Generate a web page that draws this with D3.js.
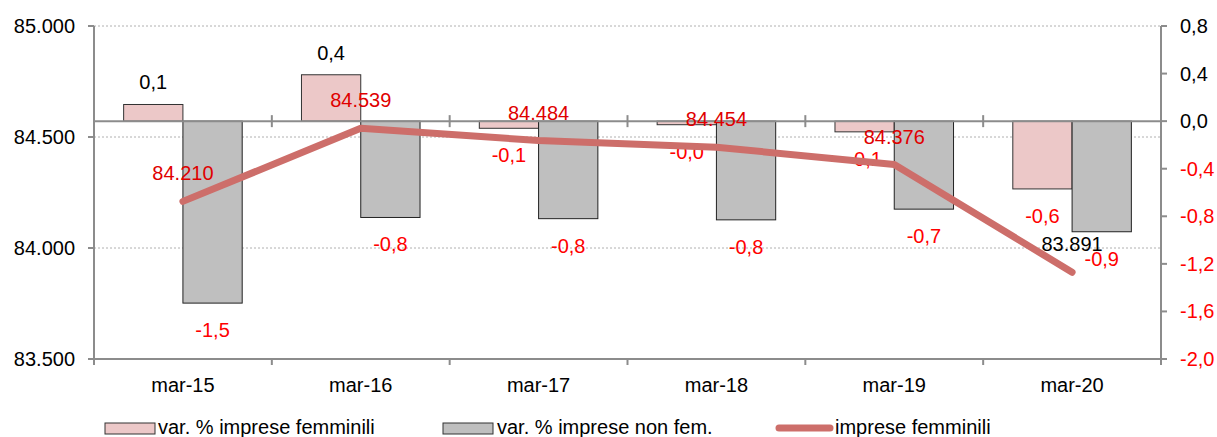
<!DOCTYPE html>
<meta charset="utf-8">
<title>Imprese femminili</title>
<style>
body { margin: 0; background: #fff; }
svg { display: block; font-family: "Liberation Sans", Arial, sans-serif; }
.grid line { stroke: #b0b0b0; stroke-dasharray: 2,2; }
.axis-line { stroke: #8c8c8c; stroke-width: 2; fill: none; }
</style>
<svg width="1217" height="437"></svg>
<script src="https://cdn.jsdelivr.net/npm/d3@7"></script>
<script>

var categories = ["mar-15", "mar-16", "mar-17", "mar-18", "mar-19", "mar-20"];
var varFem = [0.14, 0.39, -0.06, -0.03, -0.09, -0.57];
var varNonFem = [-1.53, -0.81, -0.82, -0.83, -0.74, -0.93];
var impreseFem = [84210, 84539, 84484, 84454, 84376, 83891];
var leftTicks = [83500, 84000, 84500, 85000];
var rightTicks = [-2.0, -1.6, -1.2, -0.8, -0.4, 0.0, 0.4, 0.8];
var seriesNames = ["var. % imprese femminili", "var. % imprese non fem.", "imprese femminili"];

var svg = d3.select("svg"),
    margin = {top: 26, right: 56, bottom: 78, left: 94},
    width = +svg.attr("width") - margin.left - margin.right,
    height = +svg.attr("height") - margin.top - margin.bottom;

var x = d3.scaleBand().domain(categories).range([0, width]);
var x1 = d3.scaleBand().domain(["f", "n"]).range([0, x.bandwidth()]).paddingOuter(0.5);
var yL = d3.scaleLinear().domain([83500, 85000]).range([height, 0]);
var yR = d3.scaleLinear().domain([-2.0, 0.8]).range([height, 0]);

// Italian style: comma decimals, hyphen minus, keeps "-0,0"
var fmtPct = function(v) { return (v < 0 ? "-" : "") + Math.abs(v).toFixed(1).replace(".", ","); };
var fmtNum = function(v) { return d3.format(",")(v).replace(/,/g, "."); };
var red = "#ff0000";

var g = svg.append("g").attr("transform", "translate(" + margin.left + "," + margin.top + ")");

// gridlines (left axis)
g.append("g").attr("class", "grid")
  .selectAll("line").data(leftTicks.slice(1)).enter().append("line")
  .attr("x1", 0).attr("x2", width)
  .attr("y1", function(d) { return yL(d); }).attr("y2", function(d) { return yL(d); });

// bars
var rows = categories.map(function(c, i) { return {cat: c, f: varFem[i], n: varNonFem[i]}; });
var grp = g.selectAll(".grp").data(rows).enter().append("g")
  .attr("transform", function(d) { return "translate(" + x(d.cat) + ",0)"; });

grp.append("rect")
  .attr("x", x1("f")).attr("width", x1.bandwidth())
  .attr("y", function(d) { return yR(Math.max(0, d.f)); })
  .attr("height", function(d) { return Math.abs(yR(d.f) - yR(0)); })
  .attr("fill", "#ecc8c8").attr("stroke", "#333").attr("stroke-width", 1);

grp.append("rect")
  .attr("x", x1("n")).attr("width", x1.bandwidth())
  .attr("y", function(d) { return yR(Math.max(0, d.n)); })
  .attr("height", function(d) { return Math.abs(yR(d.n) - yR(0)); })
  .attr("fill", "#bfbfbf").attr("stroke", "#222").attr("stroke-width", 1);

// axes
g.append("line").attr("class", "axis-line").attr("x1", 0).attr("x2", 0).attr("y1", 0).attr("y2", height);
g.append("line").attr("class", "axis-line").attr("x1", width).attr("x2", width).attr("y1", 0).attr("y2", height);
g.append("line").attr("class", "axis-line").attr("x1", 0).attr("x2", width).attr("y1", height).attr("y2", height);
g.append("line").attr("class", "axis-line").attr("x1", 0).attr("x2", width).attr("y1", yR(0)).attr("y2", yR(0));

var bounds = d3.range(categories.length + 1).map(function(i) { return i * x.step(); });
g.selectAll(".tb").data(bounds).enter().append("line").attr("class", "axis-line")
  .attr("x1", function(d) { return d; }).attr("x2", function(d) { return d; })
  .attr("y1", height).attr("y2", height + 6);
g.selectAll(".tz").data(bounds.slice(1, -1)).enter().append("line").attr("class", "axis-line")
  .attr("x1", function(d) { return d; }).attr("x2", function(d) { return d; })
  .attr("y1", yR(0) - 6).attr("y2", yR(0) + 6);

g.selectAll(".tl").data(leftTicks).enter().append("line").attr("class", "axis-line")
  .attr("x1", -6).attr("x2", 0)
  .attr("y1", function(d) { return yL(d); }).attr("y2", function(d) { return yL(d); });
g.selectAll(".tlt").data(leftTicks).enter().append("text")
  .attr("x", -19).attr("y", function(d) { return yL(d); }).attr("dy", "0.35em")
  .attr("text-anchor", "end").attr("font-size", 20).attr("fill", "#000")
  .text(fmtNum);

g.selectAll(".tr").data(rightTicks).enter().append("line").attr("class", "axis-line")
  .attr("x1", width).attr("x2", width + 6)
  .attr("y1", function(d) { return yR(d); }).attr("y2", function(d) { return yR(d); });
g.selectAll(".trt").data(rightTicks).enter().append("text")
  .attr("x", width + 19).attr("y", function(d) { return yR(d); }).attr("dy", "0.35em")
  .attr("font-size", 20).attr("fill", function(d) { return d < 0 ? red : "#000"; })
  .text(function(d) { return fmtPct(d); });

g.selectAll(".cat").data(categories).enter().append("text")
  .attr("x", function(d) { return x(d) + x.bandwidth() / 2; }).attr("y", height + 33)
  .attr("text-anchor", "middle").attr("font-size", 20).attr("fill", "#000")
  .text(function(d) { return d; });

// line
var line = d3.line()
  .x(function(d, i) { return x(categories[i]) + x.bandwidth() / 2; })
  .y(function(d) { return yL(d); });
g.append("path").datum(impreseFem).attr("d", line)
  .attr("fill", "none").attr("stroke", "#cd6e6a").attr("stroke-width", 7)
  .attr("stroke-linecap", "round").attr("stroke-linejoin", "round");

// bar labels
function barLabel(key) {
  grp.append("text")
    .attr("x", x1(key) + x1.bandwidth() / 2)
    .attr("y", function(d) { return d[key] >= 0 ? yR(d[key]) - 15 : yR(d[key]) + 34; })
    .attr("text-anchor", "middle").attr("font-size", 20)
    .attr("fill", function(d) { return d[key] < 0 ? red : "#000"; })
    .text(function(d) { return fmtPct(d[key]); });
}
barLabel("f");
barLabel("n");

// line labels
g.selectAll(".ll").data(impreseFem).enter().append("text")
  .attr("x", function(d, i) { return x(categories[i]) + x.bandwidth() / 2; })
  .attr("y", function(d) { return yL(d) - 21; })
  .attr("text-anchor", "middle").attr("font-size", 20)
  .attr("fill", function(d, i) { return i === impreseFem.length - 1 ? "#000" : "#e00000"; })
  .text(fmtNum);

// legend
var lg = svg.append("g").attr("font-size", 20);
lg.append("rect").attr("x", 105).attr("y", 423).attr("width", 50).attr("height", 11)
  .attr("fill", "#ecc8c8").attr("stroke", "#333");
lg.append("text").attr("x", 158).attr("y", 434).text(seriesNames[0]);
lg.append("rect").attr("x", 443).attr("y", 423).attr("width", 50).attr("height", 11)
  .attr("fill", "#bfbfbf").attr("stroke", "#333");
lg.append("text").attr("x", 497).attr("y", 434).text(seriesNames[1]);
lg.append("line").attr("x1", 779).attr("x2", 830).attr("y1", 428).attr("y2", 428)
  .attr("stroke", "#cd6e6a").attr("stroke-width", 7).attr("stroke-linecap", "round");
lg.append("text").attr("x", 835).attr("y", 434).text(seriesNames[2]);

</script>
